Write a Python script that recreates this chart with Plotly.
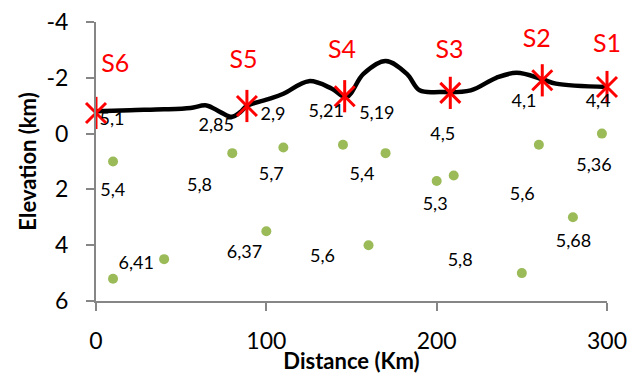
import plotly.graph_objects as go

# Topographic profile (distance km, elevation km; negative = above sea level)
profile_x = [0, 20, 40, 55.5, 64.9, 73, 79.8, 84.7, 88.6, 102, 110, 125, 138.5, 147, 157, 170, 182.5, 190, 202, 220, 235, 247, 262, 270, 300]
profile_y = [-0.80, -0.84, -0.87, -0.92, -1.01, -0.77, -0.60, -0.77, -0.99, -1.25, -1.43, -1.88, -1.61, -1.31, -2.14, -2.60, -2.14, -1.55, -1.49, -1.55, -2.00, -2.18, -1.95, -1.79, -1.67]

# Stations
station_names = ["S1", "S2", "S3", "S4", "S5", "S6"]
station_x = [300, 262, 208, 146, 88.6, 0]
station_y = [-1.67, -1.91, -1.46, -1.34, -0.99, -0.74]
station_label_x = [300, 258.8, 207.5, 144.4, 86.6, 11.3]
station_label_y = [-3.16, -3.34, -2.92, -2.92, -2.56, -2.42]

# Events (green dots)
event_x = [10, 10, 40, 80, 100, 110, 145, 160, 170, 200, 210, 250, 260, 280, 297]
event_y = [1.0, 5.2, 4.5, 0.7, 3.5, 0.5, 0.4, 4.0, 0.7, 1.7, 1.5, 5.0, 0.4, 3.0, 0.0]

# Value labels
value_text = ["5,1", "2,85", "2,9", "5,21", "5,19", "4,1", "4,4", "4,5", "5,36", "5,4",
              "5,8", "5,7", "5,4", "5,3", "5,6", "5,68", "6,41", "6,37", "5,6", "5,8"]
value_x = [9.4, 70.6, 103.9, 135.2, 164.9, 251.3, 294.8, 203.6, 292.4, 9.8,
           60.8, 102.9, 156.1, 199.1, 250.3, 280.3, 23.6, 87.2, 133.0, 213.8]
value_y = [-0.48, -0.24, -0.66, -0.77, -0.67, -1.13, -1.13, 0.06, 1.19, 2.08,
           1.90, 1.49, 1.49, 2.58, 2.23, 3.89, 4.70, 4.29, 4.43, 4.58]

# Axis ticks
x_ticks = [0, 100, 200, 300]
y_ticks = [-4, -2, 0, 2, 4, 6]
y_tick_text = ["-4", "-2", "0", "2", "4", "6"]

FONT = "Lato, Carlito, Calibri, sans-serif"
AXIS_COLOR = "#868686"

fig = go.Figure()

fig.add_trace(go.Scatter(
    x=event_x, y=event_y, mode="markers",
    marker=dict(color="#9BBB59", size=10),
    cliponaxis=False, hoverinfo="skip"))

fig.add_trace(go.Scatter(
    x=profile_x, y=profile_y, mode="lines",
    line=dict(color="black", width=4.5, shape="spline", smoothing=1.0),
    cliponaxis=False, hoverinfo="skip"))

fig.add_trace(go.Scatter(
    x=station_x, y=station_y, mode="markers",
    marker=dict(symbol="x-thin-open", size=20, color="#FF0000",
                line=dict(color="#FF0000", width=3)),
    cliponaxis=False, hoverinfo="skip"))
fig.add_trace(go.Scatter(
    x=station_x, y=station_y, mode="markers",
    marker=dict(symbol="line-ns-open", size=23, color="#FF0000",
                line=dict(color="#FF0000", width=3)),
    cliponaxis=False, hoverinfo="skip"))

fig.add_trace(go.Scatter(
    x=station_label_x, y=station_label_y, mode="text", text=station_names,
    textposition="middle center",
    textfont=dict(family=FONT, size=25, color="#FF0000"),
    cliponaxis=False, hoverinfo="skip"))

fig.add_trace(go.Scatter(
    x=value_x, y=value_y, mode="text", text=value_text,
    textposition="middle center",
    textfont=dict(family=FONT, size=18, color="#000000"),
    cliponaxis=False, hoverinfo="skip"))

# The page body has an 8px default margin, so the figure is sized to fit inside it.
fig.update_layout(
    width=632, height=366,
    margin=dict(l=88, r=33, t=14, b=73),
    paper_bgcolor="white", plot_bgcolor="white",
    showlegend=False,
    font=dict(family=FONT, color="#000000"),
)

fig.update_xaxes(
    range=[0, 300], tickvals=x_ticks, ticktext=[str(v) for v in x_ticks],
    showgrid=False, zeroline=False, automargin=False,
    showline=True, linecolor=AXIS_COLOR, linewidth=2,
    ticks="outside", ticklen=8, tickwidth=2, tickcolor=AXIS_COLOR,
    tickfont=dict(family=FONT, size=23, color="#000000"),
    ticklabelstandoff=10, ticklabeloverflow="allow",
    title=dict(text="<b>Distance (Km)</b>", font=dict(family=FONT, size=22, color="#000000"), standoff=0),
)

fig.update_yaxes(
    range=[6, -4], tickvals=y_ticks, ticktext=y_tick_text,
    showgrid=False, zeroline=False, automargin=False,
    showline=True, linecolor=AXIS_COLOR, linewidth=2,
    ticks="outside", ticklen=8, tickwidth=2, tickcolor=AXIS_COLOR,
    tickfont=dict(family=FONT, size=23, color="#000000"),
    ticklabelstandoff=13, ticklabeloverflow="allow",
    title=dict(text="<b>Elevation (km)</b>", font=dict(family=FONT, size=22, color="#000000"), standoff=4),
)

fig.write_html("out.html")
